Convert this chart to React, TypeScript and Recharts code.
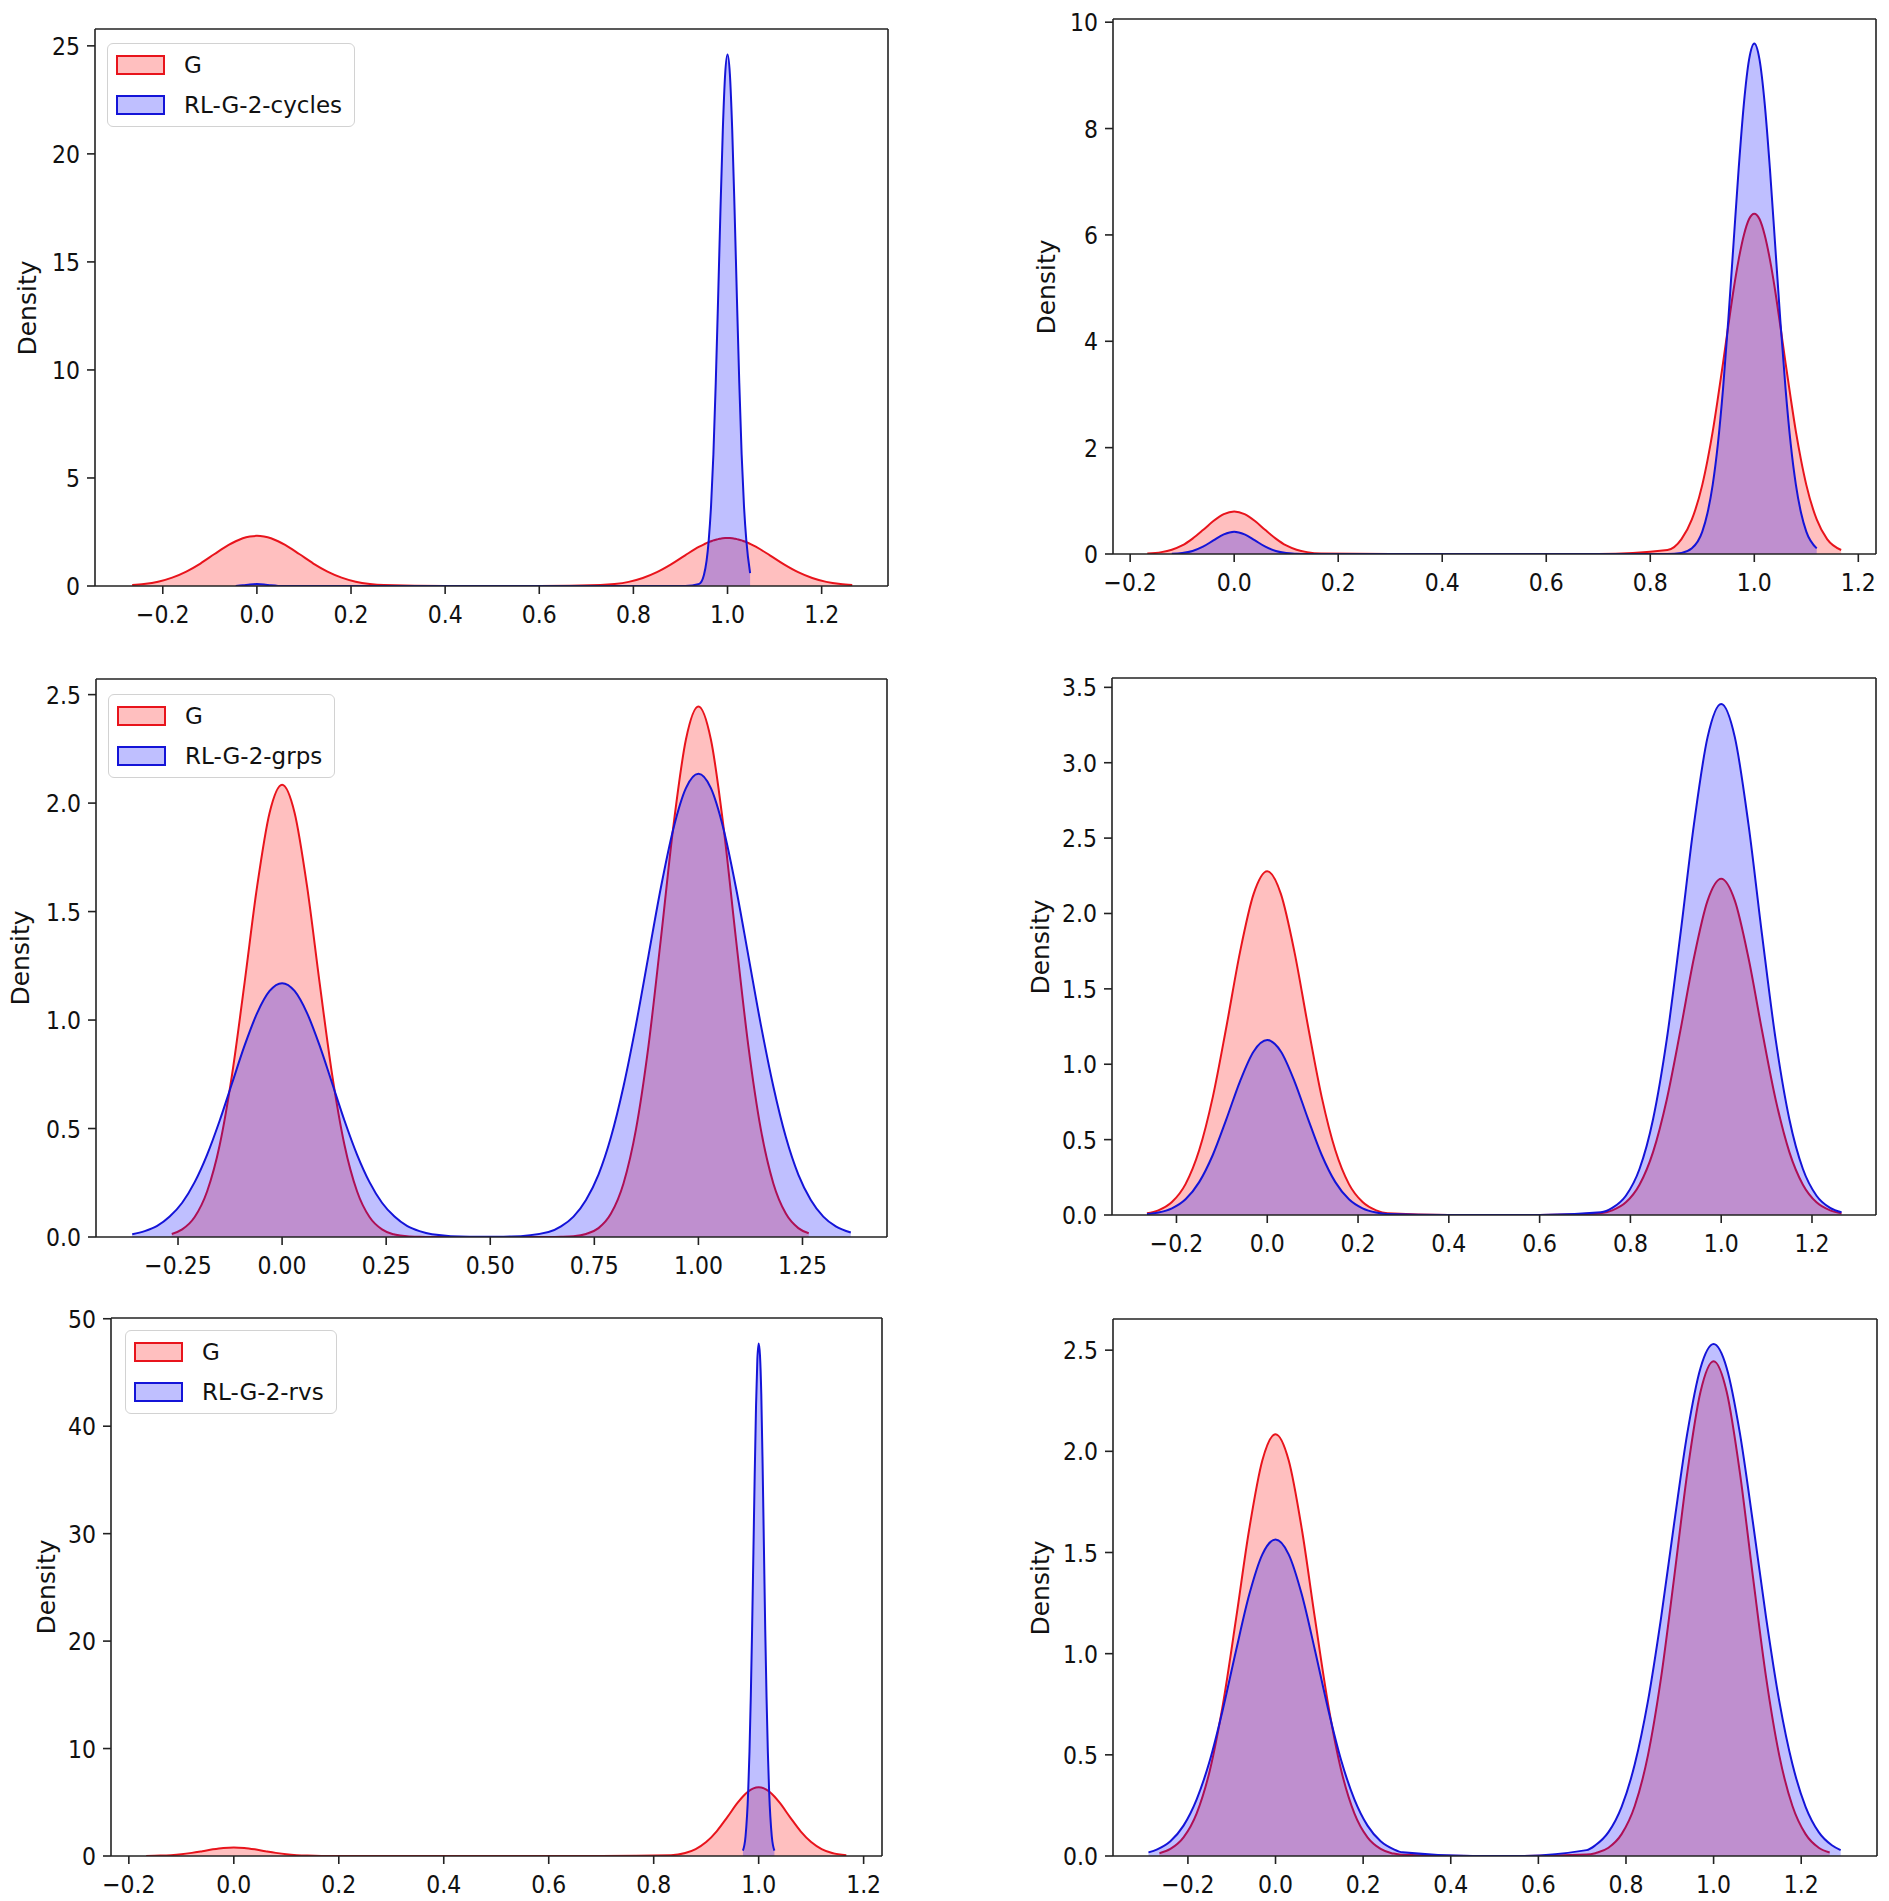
import React from "react";
import { ComposedChart, Area, XAxis, YAxis, ReferenceLine } from "recharts";

const FONT = '"DejaVu Sans", "Liberation Sans", sans-serif';
const RED = "#e8141c";
const BLUE = "#1414d8";
const FRAME = "#222";

// ---- panel 1: G vs RL-G-2-cycles ----
const p1X = [-0.265, -0.24, -0.21, -0.18, -0.15, -0.12, -0.09, -0.06, -0.045, -0.03, -0.015, 0, 0.015, 0.03, 0.045, 0.06, 0.09, 0.12, 0.15, 0.18, 0.21, 0.24, 0.27, 0.4, 0.6, 0.73, 0.76, 0.79, 0.82, 0.85, 0.88, 0.91, 0.94, 0.95, 0.96, 0.965, 0.97, 0.975, 0.98, 0.985, 0.99, 0.995, 1.0, 1.005, 1.01, 1.015, 1.02, 1.025, 1.03, 1.035, 1.04, 1.048, 1.06, 1.09, 1.12, 1.15, 1.18, 1.21, 1.24, 1.265];
const p1G = [0.047, 0.095, 0.2, 0.39, 0.67, 1.04, 1.48, 1.9, 2.07, 2.21, 2.29, 2.32, 2.29, 2.21, 2.07, 1.9, 1.48, 1.04, 0.67, 0.39, 0.2, 0.095, 0.045, 0, 0, 0.045, 0.09, 0.19, 0.37, 0.64, 1.0, 1.42, 1.82, 1.93, 2.03, 2.07, 2.11, 2.14, 2.17, 2.19, 2.21, 2.22, 2.22, 2.22, 2.21, 2.19, 2.17, 2.14, 2.11, 2.07, 2.03, 1.95, 1.82, 1.42, 1.0, 0.64, 0.37, 0.19, 0.09, 0.045];
const p1RL = [null, null, null, null, null, null, null, null, 0.005, 0.03, 0.07, 0.09, 0.07, 0.03, 0.005, 0, 0, 0, 0, 0, 0, 0, 0, 0, 0, 0, 0, 0, 0, 0, 0, 0, 0.1, 0.52, 2.1, 3.7, 6.1, 9.4, 13.3, 17.4, 21.1, 23.7, 24.6, 23.7, 21.1, 17.4, 13.3, 9.4, 6.1, 3.7, 2.1, 0.6, null, null, null, null, null, null, null, null];
const p1XTicks = [-0.2, 0, 0.2, 0.4, 0.6, 0.8, 1.0, 1.2];
const p1YTicks = [0, 5, 10, 15, 20, 25];

// ---- panel 2 (top right) ----
const p2X = [-0.167, -0.14, -0.12, -0.1, -0.08, -0.06, -0.04, -0.02, 0, 0.02, 0.04, 0.06, 0.08, 0.1, 0.12, 0.14, 0.167, 0.3, 0.5, 0.7, 0.833, 0.86, 0.88, 0.9, 0.91, 0.92, 0.93, 0.94, 0.95, 0.96, 0.97, 0.98, 0.99, 1.0, 1.01, 1.02, 1.03, 1.04, 1.05, 1.06, 1.07, 1.08, 1.09, 1.1, 1.12, 1.14, 1.167];
const p2G = [0.009, 0.035, 0.08, 0.16, 0.29, 0.45, 0.62, 0.75, 0.8, 0.75, 0.62, 0.45, 0.29, 0.16, 0.08, 0.035, 0.009, 0, 0, 0, 0.075, 0.28, 0.65, 1.3, 1.76, 2.3, 2.93, 3.6, 4.29, 4.96, 5.54, 6.0, 6.3, 6.4, 6.3, 6.0, 5.54, 4.96, 4.29, 3.6, 2.93, 2.3, 1.76, 1.3, 0.65, 0.28, 0.075];
const p2RL = [null, null, 0.005, 0.018, 0.057, 0.137, 0.255, 0.37, 0.42, 0.37, 0.255, 0.137, 0.057, 0.018, 0.005, 0, 0, 0, 0, 0, 0, 0.021, 0.106, 0.42, 0.77, 1.3, 2.07, 3.12, 4.4, 5.83, 7.25, 8.47, 9.3, 9.6, 9.3, 8.47, 7.25, 5.83, 4.4, 3.12, 2.07, 1.3, 0.77, 0.42, 0.106, null, null];
const p2XTicks = [-0.2, 0, 0.2, 0.4, 0.6, 0.8, 1.0, 1.2];
const p2YTicks = [0, 2, 4, 6, 8, 10];

// ---- panel 3: G vs RL-G-2-grps ----
const p3X = [-0.36, -0.33, -0.3, -0.27, -0.265, -0.24, -0.21, -0.18, -0.15, -0.12, -0.09, -0.06, -0.03, 0, 0.03, 0.06, 0.09, 0.12, 0.15, 0.18, 0.21, 0.24, 0.265, 0.27, 0.3, 0.33, 0.36, 0.45, 0.55, 0.64, 0.67, 0.7, 0.73, 0.735, 0.76, 0.79, 0.82, 0.85, 0.88, 0.91, 0.94, 0.97, 1, 1.03, 1.06, 1.09, 1.12, 1.15, 1.18, 1.21, 1.24, 1.265, 1.27, 1.3, 1.33, 1.366];
const p3G = [null, null, null, null, 0.014, 0.035, 0.092, 0.211, 0.423, 0.751, 1.174, 1.616, 1.956, 2.085, 1.956, 1.616, 1.174, 0.751, 0.423, 0.211, 0.092, 0.035, 0.014, 0.012, 0.004, 0.001, 0, 0, 0, 0, 0.001, 0.004, 0.014, 0.017, 0.041, 0.108, 0.247, 0.496, 0.88, 1.377, 1.895, 2.293, 2.445, 2.293, 1.895, 1.377, 0.88, 0.496, 0.247, 0.108, 0.041, 0.017, null, null, null, null];
const p3RL = [0.013, 0.027, 0.051, 0.094, null, 0.158, 0.253, 0.38, 0.536, 0.71, 0.883, 1.032, 1.134, 1.17, 1.134, 1.032, 0.883, 0.71, 0.536, 0.38, 0.253, 0.158, null, 0.094, 0.051, 0.027, 0.013, 0.001, 0.002, 0.023, 0.049, 0.094, 0.171, null, 0.288, 0.461, 0.694, 0.978, 1.296, 1.612, 1.883, 2.069, 2.135, 2.069, 1.883, 1.612, 1.296, 0.978, 0.694, 0.461, 0.288, null, 0.171, 0.094, 0.049, 0.021];
const p3XTicks = [-0.25, 0, 0.25, 0.5, 0.75, 1.0, 1.25];
const p3YTicks = [0, 0.5, 1.0, 1.5, 2.0, 2.5];

// ---- panel 4 (middle right) ----
const p4X = [-0.265, -0.24, -0.21, -0.18, -0.15, -0.12, -0.09, -0.06, -0.03, 0, 0.03, 0.06, 0.09, 0.12, 0.15, 0.18, 0.21, 0.24, 0.265, 0.4, 0.6, 0.735, 0.76, 0.79, 0.82, 0.85, 0.88, 0.91, 0.94, 0.97, 1, 1.03, 1.06, 1.09, 1.12, 1.15, 1.18, 1.21, 1.24, 1.265];
const p4G = [0.012, 0.031, 0.086, 0.205, 0.429, 0.782, 1.249, 1.744, 2.13, 2.28, 2.13, 1.744, 1.249, 0.782, 0.429, 0.205, 0.086, 0.031, 0.012, 0, 0, 0.012, 0.031, 0.084, 0.201, 0.419, 0.765, 1.222, 1.706, 2.085, 2.23, 2.085, 1.706, 1.222, 0.765, 0.419, 0.201, 0.084, 0.031, 0.012];
const p4RL = [0.006, 0.016, 0.044, 0.104, 0.218, 0.398, 0.636, 0.887, 1.085, 1.16, 1.085, 0.887, 0.636, 0.398, 0.218, 0.104, 0.044, 0.016, 0.006, 0, 0, 0.018, 0.047, 0.128, 0.305, 0.637, 1.163, 1.858, 2.593, 3.17, 3.39, 3.17, 2.593, 1.858, 1.163, 0.637, 0.305, 0.128, 0.047, 0.018];
const p4XTicks = [-0.2, 0, 0.2, 0.4, 0.6, 0.8, 1.0, 1.2];
const p4YTicks = [0, 0.5, 1.0, 1.5, 2.0, 2.5, 3.0, 3.5];

// ---- panel 5: G vs RL-G-2-rvs ----
const p5X = [-0.167, -0.14, -0.12, -0.1, -0.08, -0.06, -0.04, -0.02, 0, 0.02, 0.04, 0.06, 0.08, 0.1, 0.12, 0.14, 0.167, 0.3, 0.5, 0.7, 0.833, 0.86, 0.88, 0.9, 0.92, 0.94, 0.96, 0.97, 0.975, 0.98, 0.9825, 0.985, 0.9875, 0.99, 0.9925, 0.995, 0.9975, 1.0, 1.0025, 1.005, 1.0075, 1.01, 1.0125, 1.015, 1.0175, 1.02, 1.025, 1.03, 1.04, 1.06, 1.08, 1.1, 1.12, 1.14, 1.167];
const p5G = [0.009, 0.035, 0.08, 0.16, 0.29, 0.45, 0.62, 0.75, 0.8, 0.75, 0.62, 0.45, 0.29, 0.16, 0.08, 0.035, 0.009, 0, 0, 0, 0.075, 0.28, 0.65, 1.3, 2.3, 3.6, 4.96, 5.54, null, 6.0, null, null, null, 6.3, null, null, null, 6.4, null, null, null, 6.3, null, null, null, 6.0, null, 5.54, 4.96, 3.6, 2.3, 1.3, 0.65, 0.28, 0.075];
const p5RL = [null, null, null, null, null, null, null, null, null, null, null, null, null, null, null, null, null, null, null, null, null, null, null, null, null, null, null, 0.5, 1.84, 5.95, 9.7, 14.8, 21.1, 28.3, 35.6, 41.9, 46.2, 47.7, 46.6, 43.0, 36.5, 28.8, 21.1, 14.8, 9.7, 5.95, 1.84, 0.5, null, null, null, null, null, null, null];
const p5XTicks = [-0.2, 0, 0.2, 0.4, 0.6, 0.8, 1.0, 1.2];
const p5YTicks = [0, 10, 20, 30, 40, 50];

// ---- panel 6 (bottom right) ----
const p6X = [-0.29, -0.27, -0.265, -0.24, -0.21, -0.18, -0.15, -0.12, -0.09, -0.06, -0.03, 0, 0.03, 0.06, 0.09, 0.12, 0.15, 0.18, 0.21, 0.24, 0.265, 0.27, 0.29, 0.45, 0.55, 0.71, 0.73, 0.735, 0.76, 0.79, 0.82, 0.85, 0.88, 0.91, 0.94, 0.97, 1, 1.03, 1.06, 1.09, 1.12, 1.15, 1.18, 1.21, 1.24, 1.265, 1.27, 1.29];
const p6G = [null, null, 0.014, 0.035, 0.092, 0.211, 0.423, 0.751, 1.174, 1.616, 1.956, 2.085, 1.956, 1.616, 1.174, 0.751, 0.423, 0.211, 0.092, 0.035, 0.014, 0.012, 0.006, 0, 0, 0.007, 0.014, 0.017, 0.041, 0.108, 0.247, 0.496, 0.88, 1.377, 1.895, 2.293, 2.445, 2.293, 1.895, 1.377, 0.88, 0.496, 0.247, 0.108, 0.041, 0.017, null, null];
const p6RL = [0.018, 0.033, null, 0.073, 0.15, 0.28, 0.472, 0.727, 1.017, 1.292, 1.491, 1.564, 1.491, 1.292, 1.017, 0.727, 0.472, 0.28, 0.15, 0.073, null, 0.033, 0.018, 0, 0, 0.029, 0.053, null, 0.118, 0.243, 0.453, 0.764, 1.176, 1.645, 2.09, 2.411, 2.53, 2.411, 2.09, 1.645, 1.176, 0.764, 0.453, 0.243, 0.118, null, 0.053, 0.029];
const p6XTicks = [-0.2, 0, 0.2, 0.4, 0.6, 0.8, 1.0, 1.2];
const p6YTicks = [0, 0.5, 1.0, 1.5, 2.0, 2.5];

type Panel = {
  x: number[];
  g: (number | null)[];
  rl: (number | null)[];
  xDomain: [number, number];
  yTop: number;
  xTicks: number[];
  yTicks: number[];
  xDigits: number;
  yDigits: number;
  rect: { l: number; t: number; r: number; b: number };
  densityX: number;
  legend?: { label: string; left: number; top: number };
};

const panels: Panel[] = [
  { x: p1X, g: p1G, rl: p1RL, xDomain: [-0.344, 1.341], yTop: 25.78, xTicks: p1XTicks, yTicks: p1YTicks, xDigits: 1, yDigits: 0,
    rect: { l: 95, t: 29, r: 888, b: 586 }, densityX: 27, legend: { label: "RL-G-2-cycles", left: 107, top: 43 } },
  { x: p2X, g: p2G, rl: p2RL, xDomain: [-0.233, 1.234], yTop: 10.06, xTicks: p2XTicks, yTicks: p2YTicks, xDigits: 1, yDigits: 0,
    rect: { l: 1113, t: 19, r: 1876, b: 554 }, densityX: 1046 },
  { x: p3X, g: p3G, rl: p3RL, xDomain: [-0.447, 1.453], yTop: 2.572, xTicks: p3XTicks, yTicks: p3YTicks, xDigits: 2, yDigits: 1,
    rect: { l: 96, t: 679, r: 887, b: 1237 }, densityX: 20, legend: { label: "RL-G-2-grps", left: 108, top: 694 } },
  { x: p4X, g: p4G, rl: p4RL, xDomain: [-0.342, 1.341], yTop: 3.562, xTicks: p4XTicks, yTicks: p4YTicks, xDigits: 1, yDigits: 1,
    rect: { l: 1112, t: 678, r: 1876, b: 1215 }, densityX: 1040 },
  { x: p5X, g: p5G, rl: p5RL, xDomain: [-0.234, 1.235], yTop: 50.07, xTicks: p5XTicks, yTicks: p5YTicks, xDigits: 1, yDigits: 0,
    rect: { l: 111, t: 1318, r: 882, b: 1856 }, densityX: 46, legend: { label: "RL-G-2-rvs", left: 125, top: 1330 } },
  { x: p6X, g: p6G, rl: p6RL, xDomain: [-0.371, 1.373], yTop: 2.654, xTicks: p6XTicks, yTicks: p6YTicks, xDigits: 1, yDigits: 1,
    rect: { l: 1113, t: 1319, r: 1877, b: 1856 }, densityX: 1040 },
];

const fmtNum = (v: number, digits: number) => v.toFixed(digits).replace("-", "\u2212");

function XTick(props: any) {
  const { x, y, payload, digits } = props;
  return (
    <g transform={`translate(${x},${y})`}>
      <text transform="scale(0.88,1)" textAnchor="middle" dy="0.73em" fontSize={25} fontFamily={FONT} fill="#111">
        {fmtNum(payload.value, digits)}
      </text>
    </g>
  );
}

function YTick(props: any) {
  const { x, y, payload, digits } = props;
  return (
    <g transform={`translate(${x},${y})`}>
      <text transform="scale(0.88,1)" textAnchor="end" dy="0.36em" fontSize={25} fontFamily={FONT} fill="#111">
        {fmtNum(payload.value, digits)}
      </text>
    </g>
  );
}

function KdeLegend({ label, left, top }: { label: string; left: number; top: number }) {
  const row = (color: string, fill: string, text: string) => (
    <div style={{ display: "flex", alignItems: "center", height: 40 }}>
      <div style={{ width: 45, height: 16, border: `2px solid ${color}`, background: fill, marginRight: 19 }} />
      <span>{text}</span>
    </div>
  );
  return (
    <div
      style={{
        position: "absolute", left, top, padding: "1px 12px 1px 8px", border: "1.5px solid #d2d2d2",
        borderRadius: 6, background: "#fff", fontFamily: FONT, fontSize: 23, color: "#111", whiteSpace: "nowrap",
      }}
    >
      {row(RED, "rgba(255,0,0,0.25)", "G")}
      {row(BLUE, "rgba(0,0,255,0.25)", label)}
    </div>
  );
}

function KdePanel({ p }: { p: Panel }) {
  const { l, t, r, b } = p.rect;
  const padL = 110, padT = 30, padR = 12, padB = 50;
  const w = r - l + padL + padR;
  const h = b - t + padT + padB;
  const rows = p.x.map((x, i) => ({ x, g: p.g[i], rl: p.rl[i] }));
  return (
    <>
      <div style={{ position: "absolute", left: l - padL, top: t - padT, width: w, height: h }}>
        <ComposedChart width={w} height={h} data={rows} margin={{ top: padT, right: padR, bottom: 0, left: 0 }}>
          <XAxis
            dataKey="x" type="number" domain={p.xDomain} allowDataOverflow ticks={p.xTicks} interval={0}
            height={padB} tickSize={8} tickMargin={11} stroke={FRAME} strokeWidth={1.6}
            tick={(tp: any) => <XTick {...tp} digits={p.xDigits} />}
          />
          <YAxis
            type="number" domain={[0, p.yTop]} allowDataOverflow ticks={p.yTicks} interval={0}
            width={padL} tickSize={8} tickMargin={7} stroke={FRAME} strokeWidth={1.6}
            tick={(tp: any) => <YTick {...tp} digits={p.yDigits} />}
          />
          <Area
            type="monotone" dataKey="g" stroke={RED} strokeWidth={2} fill="#ff0000" fillOpacity={0.25}
            connectNulls dot={false} activeDot={false} isAnimationActive={false}
          />
          <Area
            type="monotone" dataKey="rl" stroke={BLUE} strokeWidth={2} fill="#0000ff" fillOpacity={0.25}
            connectNulls dot={false} activeDot={false} isAnimationActive={false}
          />
          <ReferenceLine y={p.yTop} stroke={FRAME} strokeWidth={1.6} />
          <ReferenceLine x={p.xDomain[1]} stroke={FRAME} strokeWidth={1.6} />
        </ComposedChart>
      </div>
      <div
        style={{
          position: "absolute", left: p.densityX, top: (t + b) / 2, transform: "translate(-50%, -50%) rotate(-90deg)",
          fontFamily: FONT, fontSize: 25, lineHeight: 1, color: "#111", whiteSpace: "nowrap",
        }}
      >
        Density
      </div>
      {p.legend && <KdeLegend {...p.legend} />}
    </>
  );
}

export default function App() {
  return (
    <div style={{ position: "absolute", left: 0, top: 0, width: 1889, height: 1901, background: "#fff", overflow: "hidden" }}>
      {panels.map((p, i) => (
        <KdePanel key={i} p={p} />
      ))}
    </div>
  );
}
